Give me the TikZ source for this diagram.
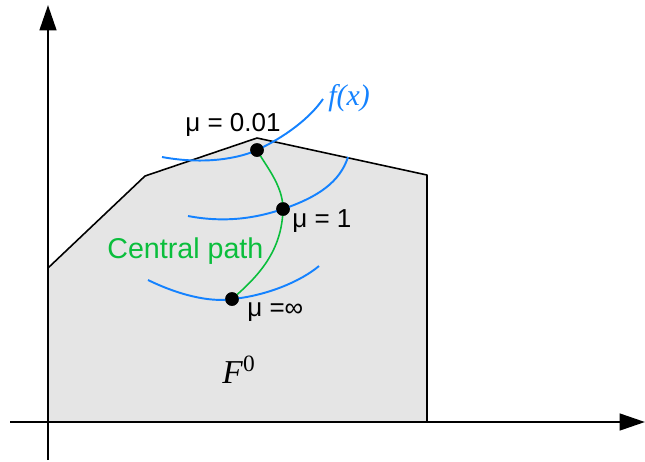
\documentclass[tikz,border=0pt]{standalone}
\usepackage{fontspec}
\setmainfont{Liberation Sans}
\newfontfamily\seriffont{Liberation Serif}
\usepackage{xcolor}
\usepackage{tikz}
\usetikzlibrary{calc, arrows.meta, positioning}

\definecolor{regiongray}{RGB}{229,229,229}
\definecolor{levelblue}{RGB}{20,130,255}
\definecolor{pathgreen}{RGB}{10,190,60}

\begin{document}
\begin{tikzpicture}[x=0.02cm, y=-0.02cm, >={Triangle[length=14.5pt, width=9.5pt]},
    axis/.style={line width=1.5pt},
    level/.style={levelblue, line width=1.1pt},
    central/.style={pathgreen, line width=0.9pt},
    mudot/.style={circle, fill=black, inner sep=0pt, minimum size=0.27cm},
    mulabel/.style={anchor=base west, inner sep=0pt, font=\fontsize{14.8}{17}\selectfont}]
    \useasboundingbox (0,0) rectangle (645,461);

    % feasible region F^0
    \coordinate (P1) at (48,421);
    \coordinate (P2) at (48,268);
    \coordinate (P3) at (145,176);
    \coordinate (P4) at (257,138);
    \coordinate (P5) at (427,175);
    \coordinate (P6) at (427,421);
    \fill[regiongray] (P1) -- (P2) -- (P3) -- (P4) -- (P5) -- (P6) -- cycle;
    \draw[line width=0.9pt, line join=round] (P2) -- (P3) -- (P4) -- (P5) -- (P6);

    % axes
    \coordinate (O1) at (48,460);
    \coordinate (Ytop) at (48,5);
    \coordinate (O2) at (10,422);
    \coordinate (Xend) at (645,422);
    \draw[axis, ->] (O1) -- (Ytop);
    \draw[axis, ->] (O2) -- (Xend);

    % points on the central path
    \node[mudot] (m1) at (257,150) {};
    \node[mudot] (m2) at (283,209) {};
    \node[mudot] (minf) at (232,299) {};

    % level sets of f(x)
    \coordinate (a1) at (162,157);
    \coordinate (b1) at (323,99);
    \draw[level] (a1) .. controls (205,165) and (240,158) .. (m1.center)
        .. controls (285,137) and (310,118) .. (b1);
    \coordinate (a2) at (188,216);
    \coordinate (b2) at (348,157);
    \draw[level] (a2) .. controls (230,224) and (262,216) .. (m2.center)
        .. controls (318,197) and (340,182) .. (b2);
    \coordinate (a3) at (148,280);
    \coordinate (b3) at (319,266);
    \draw[level] (a3) .. controls (185,298) and (215,302) .. (minf.center)
        .. controls (265,296) and (300,282) .. (b3);

    % central path
    \draw[central] (minf.center) .. controls (260,275) and (282,250) .. (m2.center)
        .. controls (283,185) and (265,165) .. (m1.center);
    \node[mudot] at (m1) {};
    \node[mudot] at (m2) {};
    \node[mudot] at (minf) {};

    % labels
    \node[mulabel] (l1) at (185,131) {μ = 0.01};
    \node[mulabel] (l2) at (292,227) {μ = 1};
    \node[mulabel] (l3) at (247,316) {μ =∞};
    \node[anchor=base west, inner sep=0pt, text=pathgreen,
        font=\fontsize{16.3}{19}\selectfont] (cp) at (107,258) {Central path};
    \node[anchor=base west, inner sep=0pt, text=levelblue,
        font=\seriffont\itshape\fontsize{17}{20}\selectfont] (fx) at (328,105) {f(x)};
    \node[anchor=base west, inner sep=0pt,
        font=\seriffont\fontsize{19}{22}\selectfont] (F0) at (222,383) {\textit{F}\textsuperscript{0}};
\end{tikzpicture}
\end{document}
